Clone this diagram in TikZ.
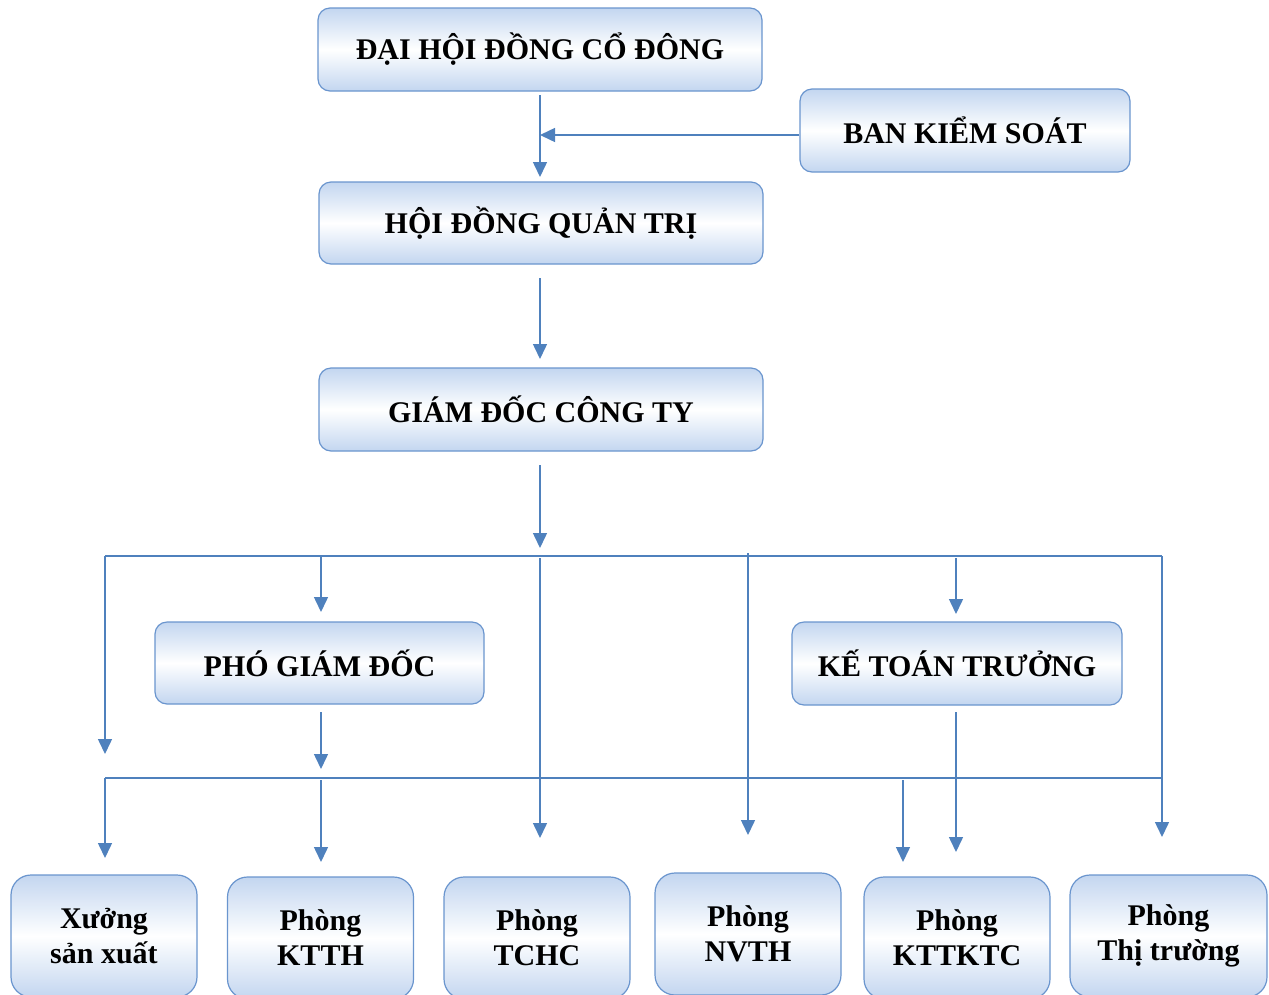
\documentclass[tikz,border=0pt]{standalone}
\usepackage{fontspec}
\setmainfont{Liberation Serif}
\usetikzlibrary{arrows.meta}
\definecolor{lineblue}{HTML}{4F81BD}
\definecolor{boxedge}{HTML}{6A95CE}
\definecolor{boxfill}{HTML}{C3D6F0}
\begin{document}
\begin{tikzpicture}[x=1pt,y=-1pt,
  box/.style={draw=boxedge, line width=1.2pt, rounded corners=12pt,
    top color=boxfill, bottom color=boxfill, middle color=white,
    inner sep=0pt, align=center,
    font=\fontsize{30}{35}\selectfont\bfseries},
  lowbox/.style={box, rounded corners=20pt, minimum width=186pt, minimum height=122pt},
  ln/.style={draw=lineblue, line width=1.5pt},
  arr/.style={ln, -{Triangle[length=15pt,width=14pt]}}]
\useasboundingbox (0,0) rectangle (1269,994);
\clip (0,0) rectangle (1269,994);
% top boxes
\node[box, minimum width=444pt, minimum height=83pt] (dh) at (540,49.5) {ĐẠI HỘI ĐỒNG CỔ ĐÔNG};
\node[box, minimum width=330pt, minimum height=83pt] (bk) at (965,130.5) {BAN KIỂM SOÁT};
\node[box, minimum width=444pt, minimum height=82pt] (hd) at (541,223) {HỘI ĐỒNG QUẢN TRỊ};
\node[box, minimum width=444pt, minimum height=83pt] (gd) at (541,409.5) {GIÁM ĐỐC CÔNG TY};
\node[box, minimum width=329pt, minimum height=82pt] (pg) at (319.5,663) {PHÓ GIÁM ĐỐC};
\node[box, minimum width=330pt, minimum height=83pt] (kt) at (957,663.5) {KẾ TOÁN TRƯỞNG};
% bottom boxes
\node[lowbox] (xs) at (104,936) {Xưởng\\sản xuất};
\node[lowbox] (p1) at (320.5,938) {Phòng\\KTTH};
\node[lowbox] (p2) at (537,938) {Phòng\\TCHC};
\node[lowbox] (p3) at (748,934) {Phòng\\NVTH};
\node[lowbox] (p4) at (957,938) {Phòng\\KTTKTC};
\node[lowbox, minimum width=197pt] (p5) at (1168.5,936) {Phòng\\Thị trường};
% junction coordinates
\coordinate (j0) at (540,135);
\coordinate (b1l) at (105,556);
\coordinate (b1r) at (1162,556);
\coordinate (b2l) at (105,778);
\coordinate (b2r) at (1162,778);
% connectors
\draw[arr] (540,95) -- (540,177);
\draw[arr] (bk.west |- j0) -- (j0);
\draw[arr] (540,278) -- (540,359);
\draw[arr] (540,465) -- (540,548);
\draw[ln] (b1l) -- (b1r);
\draw[arr] (b1l) -- (105,754);
\draw[arr] (321,556) -- (321,612);
\draw[arr] (540,558) -- (540,838);
\draw[arr] (748,553) -- (748,835);
\draw[arr] (956,558) -- (956,614);
\draw[arr] (b1r) -- (1162,837);
\draw[arr] (321,712) -- (321,769);
\draw[ln] (b2l) -- (b2r);
\draw[arr] (b2l) -- (105,858);
\draw[arr] (321,780) -- (321,862);
\draw[arr] (903,780) -- (903,862);
\draw[arr] (956,712) -- (956,852);
\end{tikzpicture}
\end{document}
